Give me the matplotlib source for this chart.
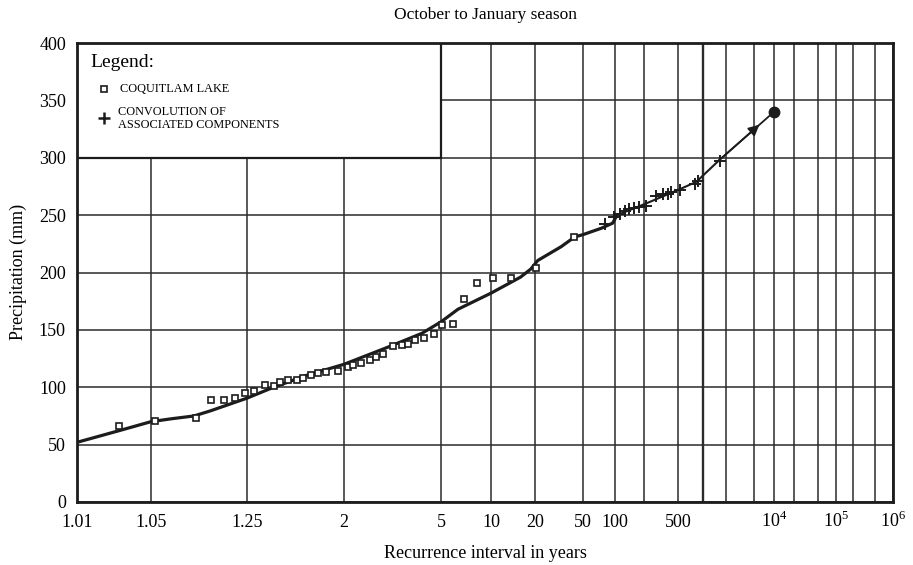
import numpy as np
import matplotlib
matplotlib.use("Agg")
import matplotlib.pyplot as plt
from matplotlib.patches import Rectangle

plt.rcParams["font.family"] = ["Liberation Serif", "DejaVu Serif"]
plt.rcParams["mathtext.fontset"] = "custom"
plt.rcParams["mathtext.rm"] = "Liberation Serif"

# ------------------------------------------------------------------
# Data (recurrence interval in years, mm)
# ------------------------------------------------------------------
lake_T = [1.027, 1.054, 1.116, 1.149, 1.182, 1.213, 1.245, 1.282, 1.339, 1.386,
          1.427, 1.482, 1.541, 1.594, 1.658, 1.724, 1.805, 1.931, 2.067, 2.155,
          2.316, 2.495, 2.648, 2.821, 3.101, 3.361, 3.592, 3.842, 4.177, 4.632,
          5.05, 5.9, 6.86, 8.18, 10.3, 13.7, 20.4, 41.8]
lake_mm = [66, 71, 73, 89, 89, 91, 95, 97, 102, 101.5,
           105, 106, 106, 108, 111, 112, 113, 114, 118, 119,
           121, 124, 126, 129, 136, 137, 138, 141, 143, 146,
           154, 155, 177, 191, 195, 195, 204, 231]

conv_T = [80, 97, 112, 126, 141, 159, 178, 209, 275, 331, 380, 416, 524, 795, 870, 1680]
conv_mm = [242, 248, 251, 254, 255, 256, 257, 258, 267, 268, 268, 270, 272, 277, 280, 297]

# fitted curve (thick part)
fit_T = [1.01, 1.0265, 1.05, 1.075, 1.113, 1.148, 1.25, 1.37, 1.609, 2.0, 2.87,
         4.11, 5.0, 6.3, 10, 15.9, 18.7, 21.1, 32.9, 42.6, 50, 74, 95, 105]
fit_mm = [52, 62, 70, 72.5, 75, 79.5, 90.5, 99, 110, 120, 134,
          147, 157, 168, 182, 196, 203, 210.5, 222.5, 231, 233, 238.5, 243, 250]

# thinner continuation of the curve
ext_T = [105, 209, 522, 831, 1637]
ext_mm = [250, 260, 272.5, 279, 298]

# extrapolated design value
design_T = [1637, 1e4]
design_mm = [298, 340]

# axis ticks / grid of the probability paper
tick_T = [1.01, 1.05, 1.25, 2, 5, 10, 20, 50, 100, 500, 1e4, 1e5, 1e6]
tick_labels = ["1.01", "1.05", "1.25", "2", "5", "10", "20", "50", "100", "500",
               r"$10^4$", r"$10^5$", r"$10^6$"]
grid_T = [1.01, 1.05, 1.25, 2, 5, 10, 20, 50, 100, 200, 500, 1000, 2000, 5000,
          1e4, 2e4, 5e4, 1e5, 2e5, 5e5, 1e6]
grid_pos = [77, 151, 247, 344, 441, 491, 535, 583, 615, 644, 678, 703, 726, 754,
            774, 794, 818, 836, 853, 875, 893]
y_ticks = [0, 50, 100, 150, 200, 250, 300, 350, 400]


# ------------------------------------------------------------------
# Hand-made probability scale (Gumbel variate, piecewise to the paper)
# ------------------------------------------------------------------
def _gumbel(t):
    t = np.clip(np.asarray(t, dtype=float), 1.000001, 1e12)
    return -np.log(-np.log1p(-1.0 / t))


GRID_U = _gumbel(grid_T)
GRID_P = np.asarray(grid_pos, dtype=float)


def _fwd(t):
    return np.interp(_gumbel(t), GRID_U, GRID_P)


def _inv(p):
    u = np.interp(p, GRID_P, GRID_U)
    return 1.0 / (-np.expm1(-np.exp(-u)))


W, H = 913, 565
fig = plt.figure(figsize=(W / 100, H / 100), dpi=100)
ax = fig.add_axes([77 / W, (H - 502) / H, 816 / W, 459 / H])

ax.set_xscale("function", functions=(_fwd, _inv))
ax.set_xlim(1.01, 1e6)
ax.set_ylim(0, 400)

ax.set_xticks(tick_T)
ax.set_xticklabels(tick_labels)
ax.set_xticks(grid_T, minor=True)
ax.set_yticks(y_ticks)
ax.tick_params(which="both", length=0, labelsize=13, pad=8)
ax.tick_params(axis="x", pad=18)
plt.setp(ax.get_xticklabels(), va="baseline")

ink = "#1c1c1c"
ax.grid(True, which="both", color="#2b2b2b", lw=1.1, zorder=0)
ax.axvline(1000, color="#2b2b2b", lw=1.7, zorder=0)
for sp in ax.spines.values():
    sp.set_linewidth(2.0)
    sp.set_color(ink)

# legend box covers the grid
ax.add_patch(Rectangle((1.01, 300), 5 - 1.01, 100, facecolor="white",
                       edgecolor=ink, lw=1.6, zorder=2))

# curve
ax.plot(fit_T, fit_mm, color=ink, lw=2.3, zorder=3, solid_capstyle="round")
ax.plot(ext_T, ext_mm, color=ink, lw=1.5, zorder=3)
ax.plot(design_T, design_mm, color=ink, lw=1.3, zorder=3)
ax.annotate("", xy=(design_T[1], design_mm[1]), xytext=(design_T[0], design_mm[0]),
            arrowprops=dict(arrowstyle="-|>", color=ink, lw=1.3, shrinkA=0,
                            shrinkB=14, mutation_scale=16), zorder=4)
ax.plot(design_T[1], design_mm[1], "o", color=ink, ms=7.5, zorder=5)

# observations
ax.plot(lake_T, lake_mm, "s", ms=4.8, mfc="white", mec=ink, mew=1.2,
        ls="none", zorder=4)
ax.plot(conv_T, conv_mm, "+", ms=8, mec=ink, mew=1.4, ls="none", zorder=4)

# legend contents
ax.text(0.016, 0.958, "Legend:", transform=ax.transAxes, fontsize=14,
        va="center", ha="left", zorder=6)
ax.plot(0.033, 0.90, "s", ms=4.5, mfc="white", mec=ink, mew=1.2,
        transform=ax.transAxes, zorder=6)
ax.text(0.0527, 0.90, "COQUITLAM LAKE", transform=ax.transAxes, fontsize=8.8,
        va="center", ha="left", zorder=6)
ax.plot(0.033, 0.836, "+", ms=8, mec=ink, mew=1.8, transform=ax.transAxes,
        zorder=6)
ax.text(0.0502, 0.836, "CONVOLUTION OF\nASSOCIATED COMPONENTS",
        transform=ax.transAxes, fontsize=8.8, va="center", ha="left",
        linespacing=1.05, zorder=6)

fig.text(485 / W, 1 - 15 / H, "October to January season", fontsize=12.5,
         ha="center", va="center")
fig.text(485 / W, 1 - 553 / H, "Recurrence interval in years", fontsize=13,
         ha="center", va="center")
fig.text(18 / W, 1 - 272 / H, "Precipitation (mm)", fontsize=13,
         ha="center", va="center", rotation=90)

fig.savefig("out.png", dpi=100)
